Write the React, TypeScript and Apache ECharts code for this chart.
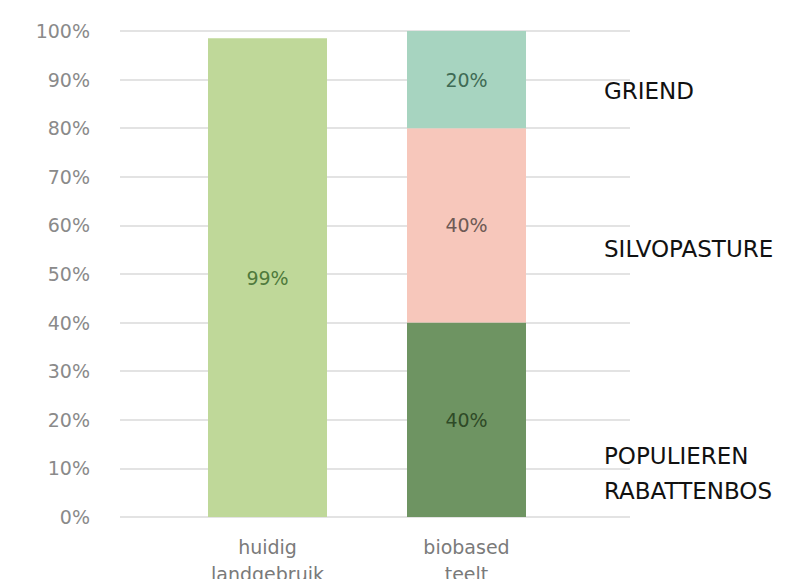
import React, { useEffect, useRef } from "react";
import * as echarts from "echarts";

const categories = ["huidig\nlandgebruik", "biobased\nteelt"];
const yTicks = [0, 10, 20, 30, 40, 50, 60, 70, 80, 90, 100];
const huidigValues = [98.5, null];
const huidigLabels = ["99%", ""];
const populierenValues = [null, 40];
const silvopastureValues = [null, 40];
const griendValues = [null, 20];
const segmentLabels = ["40%", "40%", "20%"];
const sideLabels = ["GRIEND", "SILVOPASTURE", "POPULIEREN\nRABATTENBOS"];

const FONT = "DejaVu Sans";

export default function App() {
  const ref = useRef<HTMLDivElement>(null);
  useEffect(() => {
    if (!ref.current) return;
    const chart = echarts.init(ref.current, null, { renderer: "svg" });
    const labelStyle = (color: string) => ({
      show: true,
      position: "inside" as const,
      color,
      fontFamily: FONT,
      fontSize: 19,
    });
    chart.setOption({
      animation: false,
      backgroundColor: "#ffffff",
      grid: [
        { left: 120, right: 162, top: 31, bottom: 70, outerBoundsMode: "none", containLabel: false },
        { left: 168, right: 226, top: 31, bottom: 70, outerBoundsMode: "none", containLabel: false },
      ],
      xAxis: [
        { type: "category", gridIndex: 0, data: [""], show: false },
        {
          type: "category",
          gridIndex: 1,
          data: categories,
          axisLine: { show: false },
          axisTick: { show: false },
          axisLabel: {
            interval: 0,
            margin: 16,
            color: "#7a7a7a",
            fontFamily: FONT,
            fontSize: 19,
            lineHeight: 27,
          },
        },
      ],
      yAxis: [
        {
          type: "value",
          gridIndex: 0,
          min: yTicks[0],
          max: yTicks[yTicks.length - 1],
          interval: 10,
          axisLine: { show: false },
          axisTick: { show: false },
          axisLabel: {
            formatter: "{value}%",
            margin: 30,
            color: "#8a8a8a",
            fontFamily: FONT,
            fontSize: 19,
          },
          splitLine: { lineStyle: { color: "#e3e3e3", width: 2 } },
        },
        {
          type: "value",
          gridIndex: 1,
          min: 0,
          max: 100,
          show: false,
          splitLine: { show: false },
        },
      ],
      series: [
        {
          type: "bar",
          xAxisIndex: 1,
          yAxisIndex: 1,
          stack: "all",
          barWidth: 119,
          data: huidigValues.map((v) => (v === null ? "-" : v)),
          itemStyle: { color: "#bfd899" },
          label: {
            ...labelStyle("#4f7a3c"),
            formatter: (p: any) => huidigLabels[p.dataIndex],
          },
        },
        {
          type: "bar",
          xAxisIndex: 1,
          yAxisIndex: 1,
          stack: "all",
          barWidth: 119,
          data: populierenValues.map((v) => (v === null ? "-" : v)),
          itemStyle: { color: "#6e9462" },
          label: { ...labelStyle("#2e4a27"), formatter: () => segmentLabels[0] },
        },
        {
          type: "bar",
          xAxisIndex: 1,
          yAxisIndex: 1,
          stack: "all",
          barWidth: 119,
          data: silvopastureValues.map((v) => (v === null ? "-" : v)),
          itemStyle: { color: "#f7c7bb" },
          label: { ...labelStyle("#6e5a55"), formatter: () => segmentLabels[1] },
        },
        {
          type: "bar",
          xAxisIndex: 1,
          yAxisIndex: 1,
          stack: "all",
          barWidth: 119,
          data: griendValues.map((v) => (v === null ? "-" : v)),
          itemStyle: { color: "#a7d4c0" },
          label: { ...labelStyle("#3f6b55"), formatter: () => segmentLabels[2] },
        },
      ],
      graphic: [
        {
          type: "text",
          left: 604,
          top: 79,
          style: { text: sideLabels[0], fill: "#111111", fontFamily: FONT, fontSize: 23 },
        },
        {
          type: "text",
          left: 604,
          top: 237,
          style: { text: sideLabels[1], fill: "#111111", fontFamily: FONT, fontSize: 23 },
        },
        {
          type: "text",
          left: 604,
          top: 438,
          style: {
            text: sideLabels[2],
            fill: "#111111",
            fontFamily: FONT,
            fontSize: 23,
            lineHeight: 35,
          },
        },
      ],
    });
    return () => chart.dispose();
  }, []);
  return <div ref={ref} style={{ width: 792, height: 587, margin: -8 }} />;
}
